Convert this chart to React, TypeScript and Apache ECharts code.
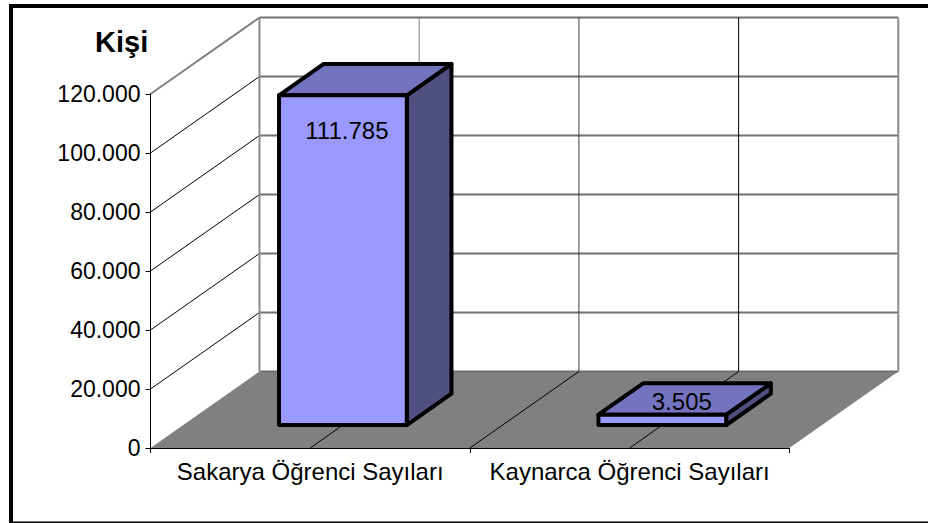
import React, { useEffect, useRef } from "react";
import * as echarts from "echarts";

const categories = ["Sakarya Öğrenci Sayıları", "Kaynarca Öğrenci Sayıları"];
const values = [111785, 3505];
const valueLabels = ["111.785", "3.505"];
const yTicks = [0, 20000, 40000, 60000, 80000, 100000, 120000];
const yTitle = "Kişi";

const FONT = "Liberation Sans";
const DX = 109;
const DY = -76.5;
const GRAY = "#808080";

function renderScene(_p: any, api: any) {
  const c0 = api.coord([0, 0]);
  const band = api.size([1, 0])[0];
  const x0 = c0[0] - band / 2;
  const x1 = x0 + band * categories.length;
  const y0 = c0[1];
  const yTop = api.coord([0, yTicks[yTicks.length - 1]])[1];
  const line = (a: number, b: number, c: number, d: number, stroke: string, lineWidth: number) => ({
    type: "line",
    shape: { x1: a, y1: b, x2: c, y2: d },
    style: { stroke, lineWidth },
    silent: true,
  });
  const children: any[] = [];
  children.push({
    type: "polygon",
    shape: { points: [[x0, y0], [x1, y0], [x1 + DX, y0 + DY], [x0 + DX, y0 + DY]] },
    style: { fill: GRAY, stroke: "none" },
  });
  yTicks.forEach((v, i) => {
    if (v === 0) return;
    const y = api.coord([0, v])[1];
    const top = i === yTicks.length - 1;
    children.push(line(x0, y, x0 + DX, y + DY, top ? "#808080" : "#000", top ? 2 : 1));
    children.push(line(x0 + DX, y + DY, x1 + DX, y + DY, "#707070", 2));
  });
  children.push(line(x0 + DX, y0 + DY, x1 + DX, y0 + DY, "#707070", 2));
  const backColors = ["#808080", "#404040", "#000"];
  for (let k = 1; k <= 3; k++) {
    const x = x0 + (band / 2) * k;
    children.push(line(x, y0, x + DX, y0 + DY, "#000", 1));
    children.push(line(x + DX, y0 + DY, x + DX, yTop + DY, backColors[k - 1], 1));
  }
  children.push(line(x0 + DX, y0 + DY, x0 + DX, yTop + DY, "#8c8c8c", 2));
  children.push(line(x1 + DX, y0 + DY, x1 + DX, yTop + DY, "#8c8c8c", 2));
  return { type: "group", children };
}

function renderBar(_p: any, api: any) {
  const idx = api.value(0);
  const val = api.value(1);
  const c = api.coord([idx, 0]);
  const top = api.coord([idx, val]);
  const band = api.size([1, 0])[0];
  const w = band * 0.4;
  const ox = DX * 0.3;
  const oy = DY * 0.3;
  const bx = DX * 0.41;
  const by = DY * 0.41;
  const l = c[0] + ox - w / 2;
  const r = l + w;
  const b = c[1] + oy;
  const t = top[1] + oy;
  const stroke = { stroke: "#000", lineWidth: 4, lineJoin: "round" };
  const tall = b - t > 60;
  return {
    type: "group",
    children: [
      {
        type: "polygon",
        shape: { points: [[r, t], [r + bx, t + by], [r + bx, b + by], [r, b]] },
        style: { fill: "#4f4f80", ...stroke },
      },
      {
        type: "polygon",
        shape: { points: [[l, t], [l + bx, t + by], [r + bx, t + by], [r, t]] },
        style: { fill: "#7373bf", ...stroke },
      },
      {
        type: "rect",
        shape: { x: l, y: t, width: w, height: b - t },
        style: { fill: "#9999ff", ...stroke },
      },
      {
        type: "text",
        style: {
          text: valueLabels[idx],
          x: tall ? (l + r) / 2 + 4 : (l + r) / 2 + 19.5,
          y: tall ? t + 35 : t - 13,
          fill: "#000",
          fontSize: 24,
          fontFamily: FONT,
          align: "center",
          verticalAlign: "middle",
        },
      },
    ],
  };
}

export default function App() {
  const ref = useRef<HTMLDivElement>(null);
  useEffect(() => {
    const chart = echarts.init(ref.current!, undefined, { renderer: "svg" });
    chart.setOption({
      animation: false,
      backgroundColor: "#fff",
      title: {
        text: yTitle,
        left: 90,
        top: 22,
        textStyle: { fontFamily: FONT, fontSize: 29, fontWeight: "bold", color: "#000" },
      },
      grid: { left: 150.5, top: 94, width: 638.8, height: 354, containLabel: false },
      xAxis: {
        type: "category",
        data: categories,
        z: 10,
        axisLine: { lineStyle: { color: "#000", width: 1 } },
        axisTick: { show: true, alignWithLabel: false, length: 5, lineStyle: { color: "#000" } },
        axisLabel: { color: "#000", fontFamily: FONT, fontSize: 24, margin: 11, interval: 0 },
        splitLine: { show: false },
      },
      yAxis: {
        type: "value",
        min: 0,
        max: 120000,
        interval: 20000,
        z: 10,
        axisLine: { show: true, lineStyle: { color: "#000", width: 1 } },
        axisTick: { show: true, length: 5, lineStyle: { color: "#000" } },
        axisLabel: {
          color: "#000",
          fontFamily: FONT,
          fontSize: 23,
          margin: 10,
          padding: [3, 0, 0, 0],
          formatter: (v: number) => String(v).replace(/\B(?=(\d{3})+$)/g, "."),
        },
        splitLine: { show: false },
      },
      graphic: [
        { type: "rect", shape: { x: 9, y: 4, width: 919, height: 4 }, style: { fill: "#000" } },
        { type: "rect", shape: { x: 9, y: 4, width: 4, height: 519 }, style: { fill: "#000" } },
        { type: "rect", shape: { x: 9, y: 521.5, width: 919, height: 1.5 }, style: { fill: "#000" } },
      ],
      series: [
        { type: "custom", silent: true, clip: false, z: 2, renderItem: renderScene, data: [[0, 0]], encode: { x: 0, y: 1 } },
        {
          type: "custom",
          silent: true,
          clip: false,
          z: 3,
          renderItem: renderBar,
          data: values.map((v, i) => [i, v]),
          encode: { x: 0, y: 1 },
        },
      ],
    });
    return () => chart.dispose();
  }, []);
  return <div ref={ref} style={{ position: "fixed", left: 0, top: 0, width: 928, height: 523 }} />;
}
